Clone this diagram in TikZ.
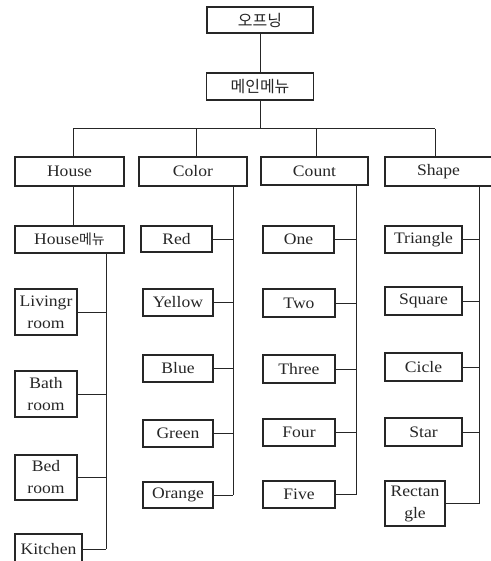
\documentclass[tikz,border=0pt]{standalone}
\usepackage{fontspec}
\setmainfont{Liberation Serif}[FakeStretch=1.1]
\newfontfamily\kr{Noto Sans CJK KR}
\begin{document}
\begin{tikzpicture}[x=1pt,y=-1pt,
  box/.style={draw=black!85,line width=1.1pt,rectangle,inner sep=0pt,font=\fontsize{16}{22}\selectfont,text=black!85,align=center},
  conn/.style={draw=black!85,line width=1pt}]
\useasboundingbox (0,0) rectangle (490,561);
% top
\node[box,minimum width=106,minimum height=26] (open) at (260,20) {\kr 오프닝};
\node[box,minimum width=107,minimum height=27] (main) at (260,86.5) {\kr 메인메뉴};
% level 1
\node[box,minimum width=109,minimum height=29] (house) at (69.5,171.5) {House};
\node[box,minimum width=108,minimum height=29] (color) at (193,171.5) {Color};
\node[box,minimum width=107,minimum height=28] (count) at (314.5,171) {Count};
\node[box,minimum width=107,minimum height=29] (shape) at (438.5,171.5) {Shape};
% house column
\node[box,minimum width=109,minimum height=27] (hmenu) at (69.5,239.5) {House{\kr\fontsize{14}{16}\selectfont 메뉴}};
\node[box,minimum width=62,minimum height=46] (living) at (46,312) {Livingr\\room};
\node[box,minimum width=62,minimum height=46] (bath) at (46,394) {Bath\\room};
\node[box,minimum width=62,minimum height=45] (bed) at (46,477.5) {Bed\\room};
\node[box,minimum width=67,minimum height=30] (kitchen) at (48.5,549) {Kitchen};
% color column
\node[box,minimum width=71,minimum height=26] (red) at (176.5,239) {Red};
\node[box,minimum width=70,minimum height=27] (yellow) at (178,302.5) {Yellow};
\node[box,minimum width=70,minimum height=27] (blue) at (178,368.5) {Blue};
\node[box,minimum width=70,minimum height=27] (green) at (178,433.5) {Green};
\node[box,minimum width=70,minimum height=26] (orange) at (178,495) {Orange};
% count column
\node[box,minimum width=71,minimum height=27] (one) at (298.5,239.5) {One};
\node[box,minimum width=72,minimum height=28] (two) at (299,303) {Two};
\node[box,minimum width=72,minimum height=28] (three) at (299,369) {Three};
\node[box,minimum width=72,minimum height=27] (four) at (299,432.5) {Four};
\node[box,minimum width=72,minimum height=27] (five) at (299,494.5) {Five};
% shape column
\node[box,minimum width=77,minimum height=27] (triangle) at (423.5,239.5) {Triangle};
\node[box,minimum width=77,minimum height=28] (square) at (423.5,301) {Square};
\node[box,minimum width=77,minimum height=28] (cicle) at (423.5,367) {Cicle};
\node[box,minimum width=77,minimum height=28] (star) at (423.5,432) {Star};
\node[box,minimum width=60,minimum height=45] (rect) at (415,503.5) {Rectan\\gle};
% bus
\coordinate (b0) at (260,129);
\coordinate (b1) at (73,129);
\coordinate (b2) at (196,129);
\coordinate (b3) at (316,129);
\coordinate (b4) at (435,129);
\draw[conn] (open) -- (main);
\draw[conn] (main.south) -- (b0);
\draw[conn] (b1) -- (b4);
\draw[conn] (b1) -- (b1 |- house.north);
\draw[conn] (b2) -- (b2 |- color.north);
\draw[conn] (b3) -- (b3 |- count.north);
\draw[conn] (b4) -- (b4 |- shape.north);
\draw[conn] (house.south -| b1) -- (hmenu.north -| b1);
% column lines
\coordinate (hl) at (106,0);
\coordinate (cl) at (233,0);
\coordinate (nl) at (356,0);
\coordinate (sl) at (479,0);
\draw[conn] (hmenu.south -| hl) -- (kitchen.east -| hl);
\foreach \n in {living,bath,bed,kitchen} \draw[conn] (\n.east) -- (\n.east -| hl);
\draw[conn] (color.south -| cl) -- (orange.east -| cl);
\foreach \n in {red,yellow,blue,green,orange} \draw[conn] (\n.east) -- (\n.east -| cl);
\draw[conn] (count.south -| nl) -- (five.east -| nl);
\foreach \n in {one,two,three,four,five} \draw[conn] (\n.east) -- (\n.east -| nl);
\draw[conn] (shape.south -| sl) -- (rect.east -| sl);
\foreach \n in {triangle,square,cicle,star,rect} \draw[conn] (\n.east) -- (\n.east -| sl);
\end{tikzpicture}
\end{document}
